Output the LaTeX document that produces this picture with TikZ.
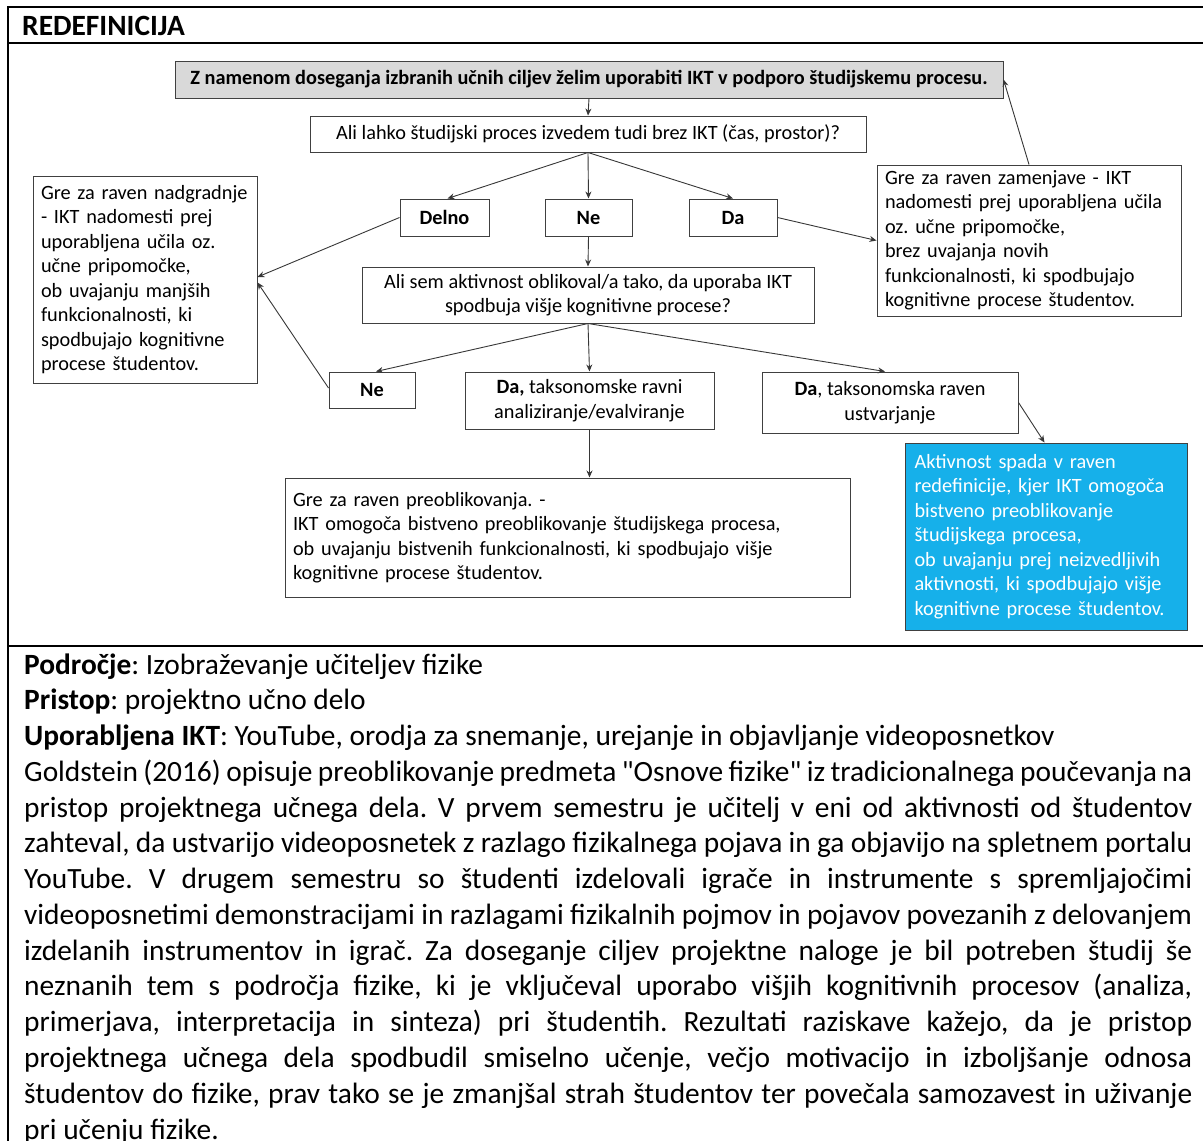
\documentclass[tikz,border=0pt]{standalone}
\usepackage{fontspec}
\setmainfont{Carlito}
\newfontfamily\qfont{Carlito}[Ligatures=TeXOff]
\usetikzlibrary{arrows.meta}
\frenchspacing
\definecolor{boxline}{RGB}{64,64,64}
\definecolor{arrline}{RGB}{55,55,55}
\definecolor{topgray}{RGB}{217,217,217}
\definecolor{bluefill}{RGB}{22,176,234}
\newcommand\dfont{\fontsize{20.3}{24.5}\selectfont\frenchspacing}
\tikzset{
  box/.style={draw=boxline, line width=1pt, inner xsep=8pt, inner ysep=0pt,
    font=\dfont, align=center},
  bbox/.style={box, font=\dfont\bfseries},
  lbox/.style={box, align=left},
  arr/.style={draw=arrline, line width=0.9pt, -{Stealth[length=7pt,width=6pt]}},
  frameline/.style={line width=2pt, black}
}
\begin{document}
\begin{tikzpicture}[x=1pt,y=-1pt]
\useasboundingbox (0,0) rectangle (1203,1141);
% frame
\draw[frameline] (8,1145) -- (8,7) -- (1203,7);
\draw[line width=1.6pt] (8,43) -- (1203,43);
\draw[frameline] (8,646) -- (1203,646);
\node[anchor=base west, inner sep=0pt, font=\fontsize{29.4}{32}\selectfont\bfseries] (hdr) at (22,35) {REDEFINICIJA};

% boxes
\node[bbox, fill=topgray, minimum width=828, minimum height=37, inner xsep=4pt] (top) at (589,79.5)
  {Z namenom doseganja izbranih učnih ciljev želim uporabiti IKT v podporo študijskemu procesu.};
\node[box, minimum width=556, minimum height=36] (q1) at (588,134)
  {Ali lahko študijski proces izvedem tudi brez IKT (čas, prostor)?};
\node[bbox, minimum width=89, minimum height=37] (delno) at (444.5,217.5) {Delno};
\node[bbox, minimum width=87, minimum height=37] (ne1) at (588.5,217.5) {Ne};
\node[bbox, minimum width=88, minimum height=37] (da1) at (733,217.5) {Da};
\node[box, minimum width=452, minimum height=56] (q2) at (588,295)
  {Ali sem aktivnost oblikoval/a tako, da uporaba IKT\\spodbuja višje kognitivne procese?};
\node[bbox, minimum width=86, minimum height=36] (ne2) at (372,390) {Ne};
\node[box, minimum width=249, minimum height=57] (da2) at (589.5,400.5)
  {\textbf{Da,} taksonomske ravni\\analiziranje/evalviranje};
\node[box, minimum width=256, minimum height=61] (da3) at (890,402.5)
  {\textbf{Da}, taksonomska raven\\ustvarjanje};
\node[lbox, text width=208, minimum height=207] (left) at (145,279.5)
  {Gre za raven nadgradnje\\- IKT nadomesti prej\\uporabljena učila oz.\\učne pripomočke,\\ob uvajanju manjših\\funkcionalnosti, ki\\spodbujajo kognitivne\\procese študentov.};
\node[lbox, text width=288, minimum height=151] (right) at (1029,240.5)
  {Gre za raven zamenjave - IKT\\nadomesti prej uporabljena učila\\oz. učne pripomočke,\\brez uvajanja novih\\funkcionalnosti, ki spodbujajo\\kognitivne procese študentov.};
\node[lbox, text width=549, minimum height=119] (bottom) at (567.5,537.5)
  {Gre za raven preoblikovanja. -\\IKT omogoča bistveno preoblikovanje študijskega procesa,\\ob uvajanju bistvenih funkcionalnosti, ki spodbujajo višje\\kognitivne procese študentov.\\[-4pt]};
\node[lbox, fill=bluefill, text=white, text width=264, minimum height=187, inner xsep=9pt] (blue) at (1046.5,536.5)
  {Aktivnost spada v raven\\redefinicije, kjer IKT omogoča\\bistveno preoblikovanje\\študijskega procesa,\\ob uvajanju prej neizvedljivih\\aktivnosti, ki spodbujajo višje\\kognitivne procese študentov.};

% arrows
\draw[arr] (top.south) -- (q1.north);
\draw[arr] (q1.south) -- ([xshift=3pt]delno.north);
\draw[arr] (q1.south) -- (ne1.north);
\draw[arr] (q1.south) -- (da1.north);
\draw[arr] (delno.west) -- ([yshift=2.5pt]left.east);
\draw[arr] (da1.east) -- (right.west);
\draw[arr] (right.north) -- (top.east);
\draw[arr] (ne1.south) -- (q2.north);
\draw[arr] (q2.south) -- ([xshift=4pt]ne2.north);
\draw[arr] (q2.south) -- (da2.north);
\draw[arr] (q2.south) -- ([xshift=-5pt]da3.north);
\draw[arr] ([yshift=2pt]ne2.west) -- ([yshift=-3pt]left.east);
\draw[arr] (da2.south) -- (da2.south |- bottom.north);
\draw[arr] (da3.east) -- ([xshift=-2pt]blue.north);

% body text
\node[anchor=base west, inner sep=0pt] (body) at (24,674) {\vtop{\hsize=1168pt\fontsize{29.4}{35.77}\selectfont\frenchspacing
\hbox to\hsize{\textbf{Področje}: Izobraževanje učiteljev fizike\hfil}
\hbox to\hsize{\textbf{Pristop}: projektno učno delo\hfil}
\hbox to\hsize{\textbf{Uporabljena IKT}: YouTube, orodja za snemanje, urejanje in objavljanje videoposnetkov\hfil}
\hbox to\hsize{Goldstein (2016) opisuje preoblikovanje predmeta {\qfont"}Osnove fizike{\qfont"} iz tradicionalnega poučevanja na}
\hbox to\hsize{pristop projektnega učnega dela. V prvem semestru je učitelj v eni od aktivnosti od študentov}
\hbox to\hsize{zahteval, da ustvarijo videoposnetek z razlago fizikalnega pojava in ga objavijo na spletnem portalu}
\hbox to\hsize{YouTube. V drugem semestru so študenti izdelovali igrače in instrumente s spremljajočimi}
\hbox to\hsize{videoposnetimi demonstracijami in razlagami fizikalnih pojmov in pojavov povezanih z delovanjem}
\hbox to\hsize{izdelanih instrumentov in igrač. Za doseganje ciljev projektne naloge je bil potreben študij še}
\hbox to\hsize{neznanih tem s področja fizike, ki je vključeval uporabo višjih kognitivnih procesov (analiza,}
\hbox to\hsize{primerjava, interpretacija in sinteza) pri študentih. Rezultati raziskave kažejo, da je pristop}
\hbox to\hsize{projektnega učnega dela spodbudil smiselno učenje, večjo motivacijo in izboljšanje odnosa}
\hbox to\hsize{študentov do fizike, prav tako se je zmanjšal strah študentov ter povečala samozavest in uživanje}
\hbox to\hsize{pri učenju fizike.\hfil}}};
\end{tikzpicture}
\end{document}
